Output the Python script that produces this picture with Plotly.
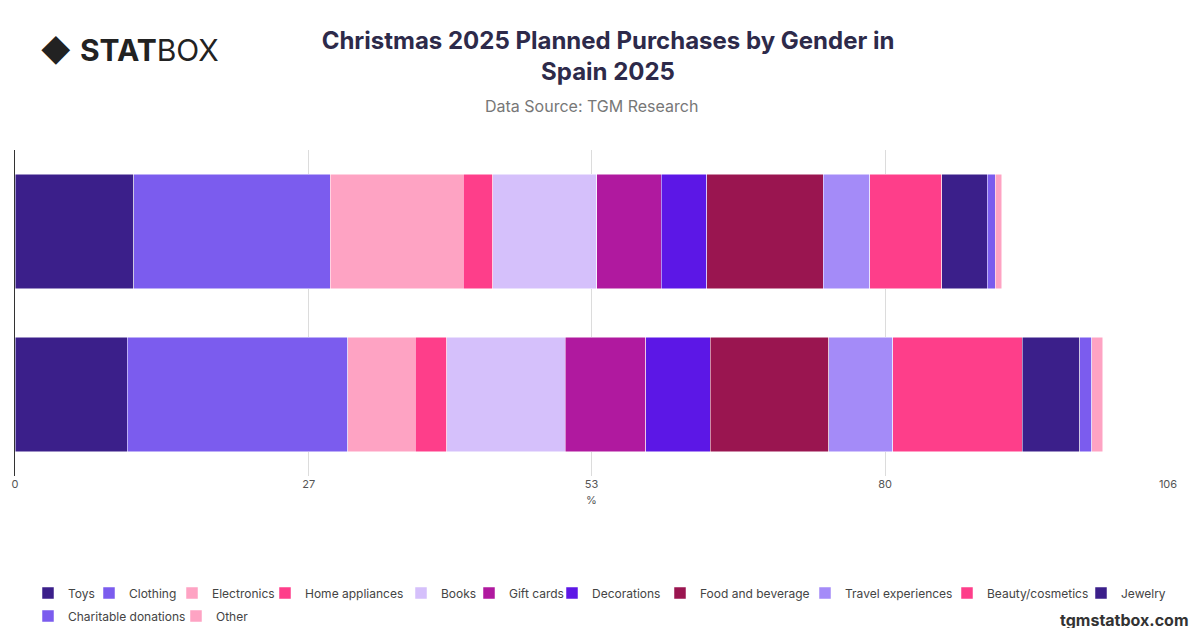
import plotly.graph_objects as go

groups = ["Male", "Female"]
categories = ["Toys", "Clothing", "Electronics", "Home appliances", "Books", "Gift cards",
              "Decorations", "Food and beverage", "Travel experiences", "Beauty/cosmetics",
              "Jewelry", "Charitable donations", "Other"]
top_vals = [10.9, 18.1, 12.2, 2.7, 9.6, 5.9, 4.2, 10.7, 4.3, 6.6, 4.2, 0.7, 0.6]
bottom_vals = [10.3, 20.3, 6.2, 2.9, 10.9, 7.4, 5.9, 10.9, 5.9, 11.9, 5.3, 1.1, 1.0]
colors = ["#3b1f8a", "#7b5cee", "#fea3c3", "#fe3e8a", "#d5c0fb", "#b0199f",
          "#5c17e6", "#9a1550", "#a48bf8", "#fe3e8a", "#3b1f8a", "#7b5cee", "#fea3c3"]
tickvals = [0, 27, 53, 80, 106]

# legend marker positions (pixels) in the page
leg_x = [47, 108, 191, 284, 420, 488, 571, 679, 824, 966, 1100, 47, 195]
leg_y = [585] * 11 + [608, 608]

fig = go.Figure()
layout_legends = {}
for i, c in enumerate(categories):
    key = f"legend{i + 2}"
    fig.add_trace(go.Bar(y=groups, x=[top_vals[i], bottom_vals[i]], name=c, orientation="h",
                         legend=key, showlegend=True,
                         marker=dict(color=colors[i], line=dict(width=0.5, color="white"))))
    layout_legends[key] = dict(orientation="h", xanchor="left", yanchor="middle",
                               xref="container", yref="container",
                               x=(leg_x[i] - 27) / 1200, y=(628 - leg_y[i]) / 628,
                               font=dict(size=12, color="#444"), itemwidth=30,
                               bgcolor="rgba(0,0,0,0)")

fig.update_layout(
    width=1200, height=628, barmode="stack", bargap=0.3, showlegend=True,
    plot_bgcolor="white", paper_bgcolor="white",
    font=dict(family="Inter, Roboto, sans-serif", color="#555"),
    margin=dict(l=7, r=40, t=142, b=160, autoexpand=False),
    title=dict(text="<b>Christmas 2025 Planned Purchases by Gender in<br>Spain 2025</b>",
               x=0.5, xanchor="center", y=0.935, font=dict(size=24, color="#2d2a4a")),
    xaxis=dict(range=[0, 106], tickvals=tickvals, showgrid=True, gridcolor="#dcdcdc",
               zeroline=False, ticks="", tickfont=dict(size=11, color="#555"),
               title=dict(text="%", font=dict(size=11, color="#555"), standoff=6)),
    yaxis=dict(autorange="reversed", showticklabels=False, showline=True,
               linecolor="#333", linewidth=1, ticks=""),
    annotations=[
        dict(text="Data Source: TGM Research", x=0.5, y=1.0, xref="paper", yref="paper",
             xanchor="center", yanchor="bottom", yshift=32, showarrow=False,
             font=dict(size=16, color="#777")),
        dict(text="◆ <b>STAT</b>BOX", x=0.02, y=1.0, xref="paper", yref="paper",
             xanchor="left", yanchor="bottom", yshift=80, showarrow=False,
             font=dict(size=30, color="#222")),
        dict(text="<b>tgmstatbox.com</b>", x=1.02, y=0.0, xref="paper", yref="paper",
             xanchor="right", yanchor="middle", yshift=-144, showarrow=False,
             font=dict(size=16, color="#333")),
    ],
    **layout_legends,
)
fig.write_html("out.html")
